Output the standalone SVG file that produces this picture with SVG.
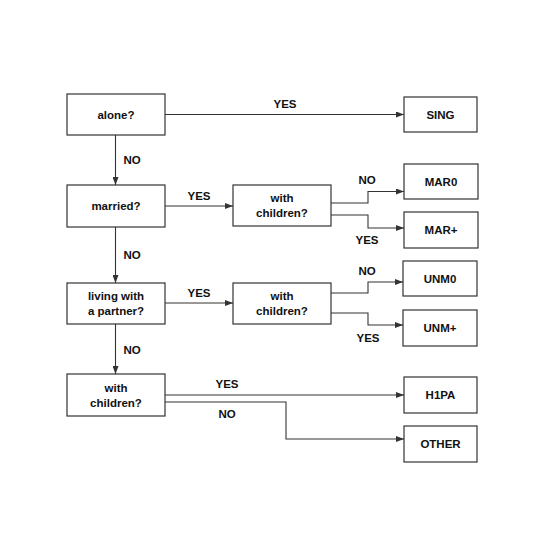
<svg xmlns="http://www.w3.org/2000/svg" width="555" height="550" viewBox="0 0 555 550">
<defs>
<marker id="arr" viewBox="0 0 8 6" refX="8" refY="3" markerWidth="8" markerHeight="6" markerUnits="userSpaceOnUse" orient="auto">
<path d="M0,0 L8,3 L0,6 Z" fill="#333"/>
</marker>
<style>
.box{fill:#fff;stroke:#333;stroke-width:1.2}
.t{font-family:"Liberation Sans",Arial,sans-serif;font-size:11.5px;font-weight:bold;fill:#111;text-anchor:middle}
.c{fill:none;stroke:#333;stroke-width:1.1}
.a{marker-end:url(#arr)}
</style>
</defs>
<rect width="555" height="550" fill="#fff"/>
<g id="connectors">
<path class="c a" d="M165,114.5 H404"/>
<path class="c a" d="M115.5,135 V185"/>
<path class="c a" d="M165,206 H233"/>
<path class="c a" d="M331,203 H368 V191.5 H404"/>
<path class="c a" d="M331,215 H368 V228 H404"/>
<path class="c a" d="M115.5,227 V283"/>
<path class="c a" d="M165,303 H233"/>
<path class="c a" d="M331,293 H368 V282 H403"/>
<path class="c a" d="M331,313 H368 V325 H403"/>
<path class="c a" d="M115.5,324 V374"/>
<path class="c a" d="M165,395 H404"/>
<path class="c a" d="M165,402 H286 V439 H404"/>
<text class="t" x="285" y="108">YES</text>
<text class="t" x="132" y="164">NO</text>
<text class="t" x="199" y="200">YES</text>
<text class="t" x="367" y="184">NO</text>
<text class="t" x="367" y="244">YES</text>
<text class="t" x="132" y="259">NO</text>
<text class="t" x="199" y="297">YES</text>
<text class="t" x="367" y="275">NO</text>
<text class="t" x="368" y="342">YES</text>
<text class="t" x="132" y="354">NO</text>
<text class="t" x="227" y="388">YES</text>
<text class="t" x="227" y="418">NO</text>
</g>
<g id="alone"><rect class="box" x="67" y="94" width="98" height="41"/><text class="t" x="116" y="119">alone?</text></g>
<g id="married"><rect class="box" x="67" y="185" width="98" height="42"/><text class="t" x="116" y="210">married?</text></g>
<g id="living"><rect class="box" x="67" y="283" width="98" height="41"/><text class="t" x="116" y="300">living with</text><text class="t" x="116" y="315">a partner?</text></g>
<g id="withchildren3"><rect class="box" x="67" y="374" width="98" height="42"/><text class="t" x="116" y="392">with</text><text class="t" x="116" y="407">children?</text></g>
<g id="withchildren1"><rect class="box" x="233" y="185" width="98" height="41"/><text class="t" x="282" y="202">with</text><text class="t" x="282" y="217">children?</text></g>
<g id="withchildren2"><rect class="box" x="233" y="283" width="98" height="41"/><text class="t" x="282" y="300">with</text><text class="t" x="282" y="315">children?</text></g>
<g id="sing"><rect class="box" x="404" y="97" width="73" height="35"/><text class="t" x="440.5" y="119">SING</text></g>
<g id="mar0"><rect class="box" x="404" y="164" width="74" height="35"/><text class="t" x="441" y="186">MAR0</text></g>
<g id="marplus"><rect class="box" x="404" y="212" width="74" height="36"/><text class="t" x="441" y="234">MAR+</text></g>
<g id="unm0"><rect class="box" x="403" y="261" width="74" height="35"/><text class="t" x="440" y="283">UNM0</text></g>
<g id="unmplus"><rect class="box" x="403" y="310" width="74" height="36"/><text class="t" x="440" y="332">UNM+</text></g>
<g id="h1pa"><rect class="box" x="404" y="377" width="73" height="36"/><text class="t" x="440.5" y="399">H1PA</text></g>
<g id="other"><rect class="box" x="404" y="426" width="73" height="36"/><text class="t" x="440.5" y="448">OTHER</text></g>
</svg>
